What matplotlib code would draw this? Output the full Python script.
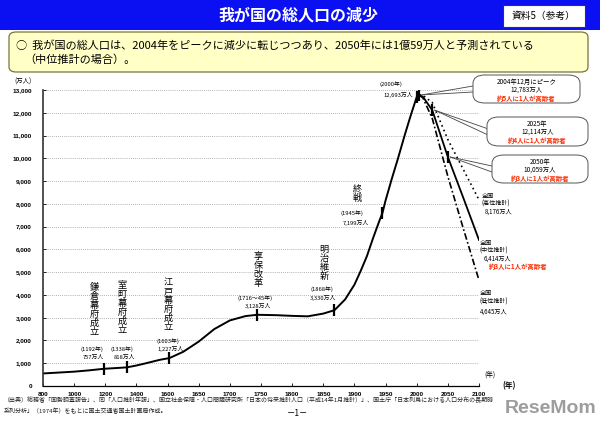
import numpy as np
import matplotlib
matplotlib.use('Agg')
import matplotlib.pyplot as plt
from matplotlib.patches import FancyBboxPatch, Rectangle
from matplotlib.lines import Line2D

plt.rcParams['font.family'] = ['Noto Sans CJK JP', 'DejaVu Sans']

W, H = 600, 423

hist_years = [800, 900, 1000, 1100, 1192, 1250, 1338, 1400, 1450, 1500, 1550, 1603,
              1625, 1650, 1675, 1700, 1725, 1744, 1775, 1800, 1825, 1850, 1868,
              1885, 1900, 1910, 1920, 1930, 1940, 1945, 1950, 1960, 1970, 1980, 1990,
              2000, 2004]
hist_pop = [551, 590, 630, 690, 757, 780, 818, 900, 980, 1065, 1150, 1227,
            1500, 1950, 2500, 2880, 3070, 3128, 3110, 3080, 3060, 3180, 3330,
            3800, 4450, 5050, 5700, 6500, 7250, 7600, 8150, 9100, 10000, 10950, 11850,
            12693, 12783]

# projections (2002 estimate)
proj_years = [2004, 2010, 2025, 2050, 2075, 2100]
mid_pop = [12783, 12700, 12114, 10059, 8250, 6414]
high_pop = [12783, 12760, 12450, 10825, 9500, 8176]
low_pop = [12783, 12650, 11750, 9203, 6900, 4645]

# marked events on the curve
event_years = [1192, 1338, 1603, 1744, 1868, 1945, 2000, 2004, 2025, 2050]
event_pop = [757, 818, 1227, 3128, 3330, 7600, 12693, 12783, 12114, 10059]

x_ticks = [800, 1000, 1200, 1400, 1600, 1650, 1700, 1750, 1800, 1850, 1900,
           1950, 2000, 2050, 2100]
y_ticks = list(range(0, 13001, 1000))

# broken x axis: 200-year steps up to 1600, 50-year steps afterwards
brk_years = [800, 1600, 2100]
brk_units = [0, 4, 14]


def fwd(x):
    return np.interp(x, brk_years, brk_units)


def inv(u):
    return np.interp(u, brk_units, brk_years)


def fx(x):
    return x / W


def fy(y):
    return 1 - y / H


fig = plt.figure(figsize=(6, 4.23), dpi=100)

# header banner
fig.patches.append(Rectangle((0, fy(30)), 1, 30 / H, transform=fig.transFigure,
                             facecolor='#0b10f2', edgecolor='none'))
fig.text(fx(298), fy(16), '我が国の総人口の減少', color='white', fontsize=11.5,
         fontweight='bold', ha='center', va='center')
fig.patches.append(Rectangle((fx(503), fy(27)), 82 / W, 22 / H, transform=fig.transFigure,
                             facecolor='white', edgecolor='#333333', lw=0.8))
fig.text(fx(544), fy(16), '資料5（参考）', fontsize=7, ha='center', va='center')

# summary box
fig.patches.append(FancyBboxPatch((fx(9), fy(72)), 579 / W, 40 / H,
                                  boxstyle='round,pad=0,rounding_size=0.012',
                                  transform=fig.transFigure, facecolor='#ffffc6',
                                  edgecolor='#77773a', lw=0.9))
fig.text(fx(16), fy(45), '○  我が国の総人口は、2004年をピークに減少に転じつつあり、2050年には1億59万人と予測されている',
         fontsize=8.0, ha='left', va='center')
fig.text(fx(24), fy(60), '（中位推計の場合）。', fontsize=8.0, ha='left', va='center')

ax = fig.add_axes([fx(43), fy(386), (479 - 43) / W, (386 - 90) / H])
ax.set_xscale('function', functions=(fwd, inv))
ax.set_xlim(800, 2100)
ax.set_ylim(0, 13000)

ax.plot(hist_years, hist_pop, color='black', lw=1.4, solid_capstyle='round')
ax.plot(proj_years, mid_pop, color='black', lw=1.3)
ax.plot(proj_years, high_pop, color='black', lw=1.2, linestyle=(0, (1, 2)))
ax.plot(proj_years, low_pop, color='black', lw=1.2, linestyle=(0, (4, 1.5, 1, 1.5)))
ax.plot(event_years, event_pop, linestyle='none', marker='|', color='black',
        markersize=9, markeredgewidth=1.6)

ax.set_xticks(x_ticks)
ax.set_xticklabels([str(t) for t in x_ticks], family='Liberation Sans',
                   fontsize=4.6, fontweight='bold')
ax.set_yticks(y_ticks)
ax.set_yticklabels([f'{t:,}' for t in y_ticks], family='Liberation Sans',
                   fontsize=4.6, fontweight='bold')
ax.tick_params(axis='y', direction='in', length=2.5, width=0.6, pad=8)
ax.tick_params(axis='x', direction='in', length=2, width=0.6, pad=4)
ax.xaxis.set_minor_locator(matplotlib.ticker.NullLocator())
ax.yaxis.grid(True, linestyle=(0, (1, 1.5)), color='#9a9a9a', lw=0.6)
ax.set_axisbelow(True)
for s in ['top', 'right']:
    ax.spines[s].set_visible(False)
ax.spines['left'].set_linewidth(1.2)
ax.spines['left'].set_color('#333333')
ax.spines['bottom'].set_linewidth(0.9)

fig.text(fx(14), fy(82), '(万人)', fontsize=4.6, ha='left', va='center')
fig.text(fx(484), fy(375), '(年)', fontsize=4.8, ha='left', va='center')
fig.text(fx(502), fy(386), '(年)', fontsize=5.5, fontweight='bold', ha='left', va='center')

# vertical event labels: (text, x, center y)
vlabels = [('鎌倉幕府成立', 94, 310), ('室町幕府成立', 122, 308), ('江戸幕府成立', 168, 305),
           ('享保改革', 258, 270), ('明治維新', 324, 263), ('終戦', 357, 194)]
for txt, x, y in vlabels:
    fig.text(fx(x), fy(y), '\n'.join(txt), fontsize=6.6, ha='center', va='center',
             linespacing=0.98)

small = [('(1192年)', 92, 349), ('757万人', 93, 357), ('(1338年)', 122, 349),
         ('818万人', 125, 357), ('(1603年)', 168, 341), ('1,227万人', 171, 349),
         ('(1716～45年)', 255, 298), ('3,128万人', 258, 306), ('(1868年)', 322, 289),
         ('3,330万人', 323, 298), ('(1945年)', 352, 213), ('7,199万人', 356, 223),
         ('(2000年)', 391, 84), ('12,693万人', 398, 95)]
for txt, x, y in small:
    fig.text(fx(x), fy(y), txt, fontsize=4.2, ha='center', va='center')

right = [('全国', 482, 196), ('(高位推計)', 482, 204), ('8,176万人', 485, 212),
         ('全国', 480, 243), ('(中位推計)', 480, 251), ('6,414万人', 484, 259),
         ('全国', 480, 293), ('(低位推計)', 480, 302), ('4,645万人', 480, 312)]
for txt, x, y in right:
    fig.text(fx(x), fy(y), txt, fontsize=4.4, ha='left', va='center')
fig.text(fx(489), fy(266), '約3人に1人が高齢者', fontsize=4.6, color='#ff2a00',
         ha='left', va='center', fontweight='bold')

# callout boxes: (x0, y0, x1, y1, lines, anchor year, anchor value)
callouts = [(473, 75, 580, 103, ['2004年12月にピーク', '12,783万人', '約5人に1人が高齢者'], 2004, 12783),
            (487, 117, 588, 146, ['2025年', '12,114万人', '約4人に1人が高齢者'], 2025, 12114),
            (492, 155, 588, 183, ['2050年', '10,059万人', '約3人に1人が高齢者'], 2050, 10059)]
fig.canvas.draw()
to_fig = ax.transData + fig.transFigure.inverted()
for x0, y0, x1, y1, lines, ay, av in callouts:
    fig.patches.append(FancyBboxPatch((fx(x0), fy(y1)), (x1 - x0) / W, (y1 - y0) / H,
                                      boxstyle='round,pad=0,rounding_size=0.02',
                                      transform=fig.transFigure, facecolor='white',
                                      edgecolor='#555555', lw=0.7, zorder=3))
    cx = (x0 + x1) / 2
    for i, line in enumerate(lines):
        col = '#ff2a00' if i == 2 else 'black'
        fig.text(fx(cx), fy(y0 + 7 + 8 * i), line, fontsize=4.6, color=col,
                 ha='center', va='center', zorder=4,
                 fontweight='bold' if i == 2 else 'normal')
    px, py = to_fig.transform((ay, av))
    ym = (y0 + y1) / 2
    for dy in (-3, 3):
        fig.add_artist(Line2D([px + 0.004, fx(x0)], [py, fy(ym + dy)],
                              transform=fig.transFigure, color='#444444', lw=0.6))

# source note
fig.text(fx(4), fy(400), '（出典）総務省「国勢調査報告」、同「人口推計年報」、国立社会保障・人口問題研究所「日本の将来推計人口（平成14年1月推計）」、国土庁「日本列島における人口分布の長期時',
         fontsize=4.3, ha='left', va='center', color='#222222')
fig.text(fx(4), fy(411), '系列分析」（1974年）をもとに国土交通省国土計画局作成。',
         fontsize=4.3, ha='left', va='center', color='#222222')
fig.text(fx(298), fy(413), '－1－', fontsize=6, ha='center', va='center')
fig.text(fx(597), fy(408), 'ReseMom', fontsize=14, fontweight='bold', color='#8c8c8c',
         family='Liberation Sans', ha='right', va='center', alpha=0.85)

fig.savefig('out.png', dpi=100)
